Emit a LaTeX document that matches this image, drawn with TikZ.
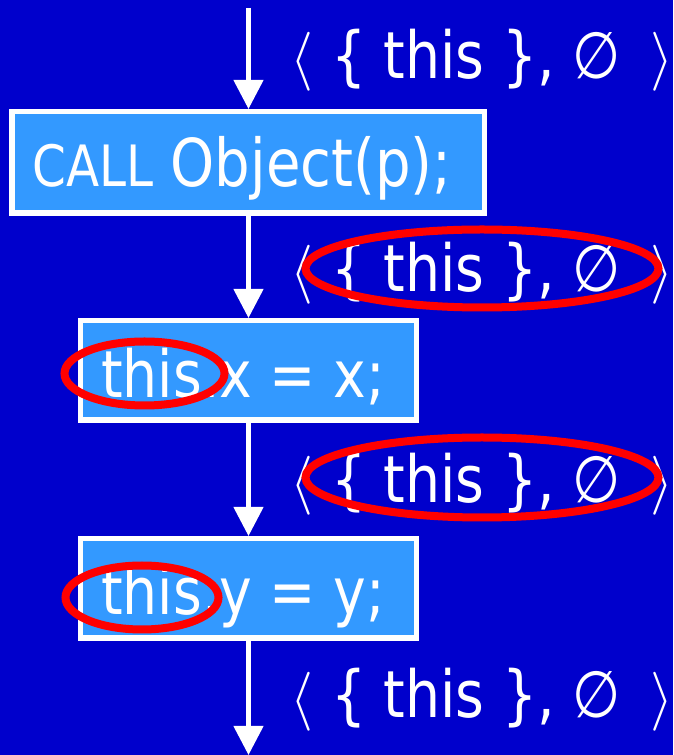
\documentclass[tikz,border=0pt]{standalone}
\usepackage{fontspec}
\usepackage{graphicx}
\newfontfamily\tah{DejaVu Sans}[FakeStretch=0.85]
\usetikzlibrary{arrows.meta}
\definecolor{bg}{HTML}{0000CC}
\definecolor{boxfill}{HTML}{3399FF}
\definecolor{ringred}{HTML}{FF0000}
\newcommand{\myla}{\raisebox{2pt}{\scalebox{5.9}{\fontsize{10}{12}\selectfont$\langle$}}}
\newcommand{\myra}{\raisebox{2pt}{\scalebox{5.9}{\fontsize{10}{12}\selectfont$\rangle$}}}
\newcommand{\mylabel}{\hspace*{-3pt}\myla\hspace{0.5pt}\ \{ this \}, ∅\hspace{12pt} \myra}
\begin{document}
\begin{tikzpicture}[x=1pt,y=1pt,
  stmt/.style={draw=white, line width=5.5pt, fill=boxfill, inner sep=0pt, rectangle},
  flow/.style={draw=white, line width=4.5pt, -{Triangle[width=29pt,length=29pt]}},
  txt/.style={text=white, font=\tah\fontsize{65}{65}\selectfont, inner sep=0pt, anchor=base west},
  ring/.style={draw=ringred, line width=8pt}
]
\fill[bg] (0,0) rectangle (673,755);
\useasboundingbox (0,0) rectangle (673,755);

% statement boxes
\node[stmt, minimum width=472.5pt, minimum height=101.5pt] (b1) at (248,592.5) {};
\node[stmt, minimum width=336pt, minimum height=99.5pt] (b2) at (248.25,384.5) {};
\node[stmt, minimum width=336pt, minimum height=99.5pt] (b3) at (248.25,166.5) {};

% statement texts
\node[txt] (t1) at (32,568) {{\fontsize{57}{57}\selectfont CALL} {\fontsize{66}{66}\selectfont Object(p);}};
\node[txt] (t2) at (101,357) {this.x = x;};
\node[txt] (t3) at (101,140) {this.y = y;};

% flow labels
\node[txt] (l1) at (293,676) {\mylabel};
\node[txt] (l2) at (293,463) {\mylabel};
\node[txt] (l3) at (293,252) {\mylabel};
\node[txt] (l4) at (293,37) {\mylabel};

% connectors
\coordinate (top) at (248.5,747);
\coordinate (bot) at (248.5,0);
\draw[flow] (top) -- (top |- b1.north);
\draw[flow] (b1.south -| top) -- (top |- b2.north);
\draw[flow] (b2.south -| top) -- (top |- b3.north);
\draw[flow] (b3.south -| top) -- (bot);

% highlight rings
\draw[ring] (482,486.5) ellipse [x radius=176.5, y radius=39];
\draw[ring] (482,277.5) ellipse [x radius=176.5, y radius=40];
\draw[ring] (144.5,381.5) ellipse [x radius=80, y radius=32];
\draw[ring] (142,157.5) ellipse [x radius=76.5, y radius=32];
\end{tikzpicture}
\end{document}
